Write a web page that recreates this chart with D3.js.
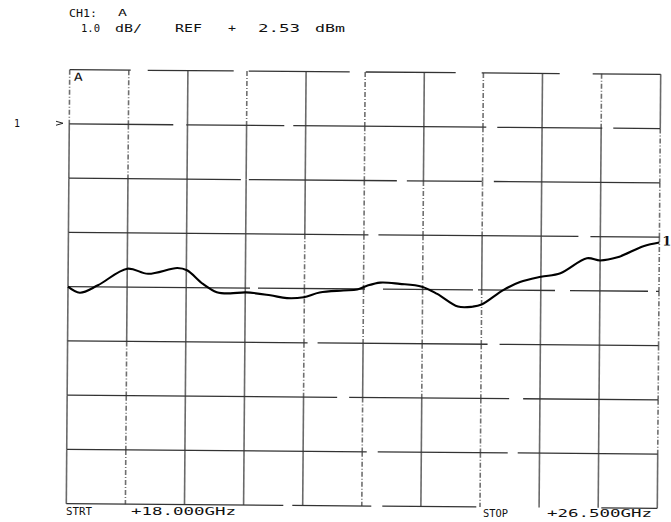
<!DOCTYPE html>
<html><head><meta charset="utf-8">
<script src="https://cdn.jsdelivr.net/npm/d3@7"></script>
<style>html,body{margin:0;padding:0;background:#fff;} svg{display:block;}</style>
</head><body>
<svg id="c" width="671" height="522"></svg>
<script>
// ---- data ----
const freqGHz  = [18.00, 18.17, 18.43, 18.85, 19.15, 19.57, 19.71, 19.94, 20.14, 20.33, 20.56, 20.91, 21.15, 21.39, 21.62, 21.96, 22.16, 22.30, 22.49, 22.77, 23.09, 23.31, 23.61, 23.82, 23.95, 24.26, 24.50, 24.80, 25.08, 25.46, 25.65, 25.90, 26.27, 26.50];
const traceDbm = [-0.47, -0.58, -0.44, -0.13, -0.22, -0.11, -0.15, -0.40, -0.55, -0.57, -0.55, -0.60, -0.65, -0.63, -0.54, -0.50, -0.48, -0.41, -0.35, -0.37, -0.42, -0.55, -0.78, -0.78, -0.74, -0.47, -0.32, -0.22, -0.15, 0.13, 0.09, 0.15, 0.36, 0.43];
const startGHz = 18.0, stopGHz = 26.5;
const refLevelDbm = 2.53, dbPerDiv = 1.0;
const refDivFromTop = 1, nXDiv = 10, nYDiv = 8;
const headerLine1 = ["CH1:", "A"];
const headerLine2 = ["1.0", "dB/", "REF", "+", "2.53", "dBm"];
const startLabel = ["STRT", "+18.000GHz"];
const stopLabel  = ["STOP", "+26.500GHz"];

// ---- layout ----
const svg = d3.select('#c');
const L = 68, R = 659, T = 72, B = 506;
const topDb = refLevelDbm + refDivFromTop * dbPerDiv;
const x = d3.scaleLinear().domain([startGHz, stopGHz]).range([L, R]);
const y = d3.scaleLinear().domain([topDb - nYDiv * dbPerDiv, topDb]).range([B, T]);
const FONT = "'DejaVu Sans Mono', 'Liberation Mono', monospace";

function txt(sel, s, x0, y0, w, size, extra) {
  const t = sel.append('text').attr('x', x0).attr('y', y0).text(s)
    .attr('font-family', FONT).attr('font-size', size).attr('fill', '#111');
  if (w) t.attr('textLength', w).attr('lengthAdjust', 'spacingAndGlyphs');
  if (extra) extra(t);
  return t;
}

// header
txt(svg, headerLine1[0], 69, 17, 28, 11);
txt(svg, headerLine1[1], 118, 16, 9, 9);
const h2x = [81, 115, 175, 228, 258, 315], h2w = [19, 27, 27, 8, 42, 30];
headerLine2.forEach((s, i) => txt(svg, s, h2x[i], 32, h2w[i], 11));

// reference marker
txt(svg, "1", 14, 127, 6, 11);
svg.append('path').attr('d', `M56,${y(refLevelDbm)-5} L63,${y(refLevelDbm)-3} L56,${y(refLevelDbm)-1}`)
  .attr('fill', 'none').attr('stroke', '#222').attr('stroke-width', 1);

// rotated "plotter" frame
const g = svg.append('g').attr('transform', `rotate(0.45 ${(L + R) / 2} ${(T + B) / 2})`);

const xDivs = d3.range(nXDiv + 1).map(i => startGHz + i * (stopGHz - startGHz) / nXDiv);
const yDivs = d3.range(nYDiv + 1).map(i => topDb - i * dbPerDiv);

// vertical lines: per division style (top -> bottom), s = solid, d = dashed
const vPat = ["dsssssss", "ddsssddd", "ssssssss", "dsssssss", "sssdddss", "dddddsdd",
              "ssddddss", "dddsdddd", "ssssssss", "dsssssss", "sdddddds"];
xDivs.forEach((f, i) => {
  for (let j = 0; j < nYDiv; j++) {
    const c = vPat[i][j];
    g.append('line').attr('x1', x(f)).attr('x2', x(f))
      .attr('y1', y(yDivs[j])).attr('y2', y(yDivs[j + 1]))
      .attr('stroke', c === 's' ? '#6a6a6a' : '#6f6f6f')
      .attr('stroke-width', 1.6)
      .attr('stroke-dasharray', c === 's' ? null : '5,2,1,2');
  }
});

// horizontal lines with pen gaps
const hDash = ["61,17,86,15,101,16,90,26,78,33,80",
               "104,13,98,9,193,11,105,11,60",
               "172,8,148,10,75,12,200",
               "300,10,200,12,100,17,80",
               "182,8,107,18,90,5,77,15,78,8,5",
               "240,10,170,12,180",
               "270,12,160,14,160",
               "300,11,130,10,160",
               "217,9,79,11,94,125,60"];
yDivs.forEach((d, j) => {
  g.append('line').attr('x1', L).attr('x2', R).attr('y1', y(d)).attr('y2', y(d))
    .attr('stroke', '#333').attr('stroke-width', 1.3)
    .attr('stroke-dasharray', hDash[j] + ',0');
});

// "A" in the corner
txt(g, "A", 72, 83, 9, 11);

// trace
const pts = freqGHz.map((f, i) => [f, traceDbm[i]]);
g.append('path').datum(pts)
  .attr('d', d3.line().x(d => x(d[0])).y(d => y(d[1])).curve(d3.curveCatmullRom.alpha(0.5)))
  .attr('fill', 'none').attr('stroke', '#000').attr('stroke-width', 2.1)
  .attr('stroke-linejoin', 'round');

// marker "1" at trace end
txt(g, "1", x(stopGHz) + 3, y(traceDbm[traceDbm.length - 1]) + 3, null, 13,
    t => t.attr('font-weight', 'bold').attr('font-family', "'DejaVu Serif', serif"));

// bottom labels
txt(svg, startLabel[0], 66, 515, 26, 11);
txt(svg, startLabel[1], 131, 515, 105, 11);
txt(svg, stopLabel[0], 483, 517, 25, 11);
txt(svg, stopLabel[1], 547, 517, 105, 11);
</script>
</body></html>
